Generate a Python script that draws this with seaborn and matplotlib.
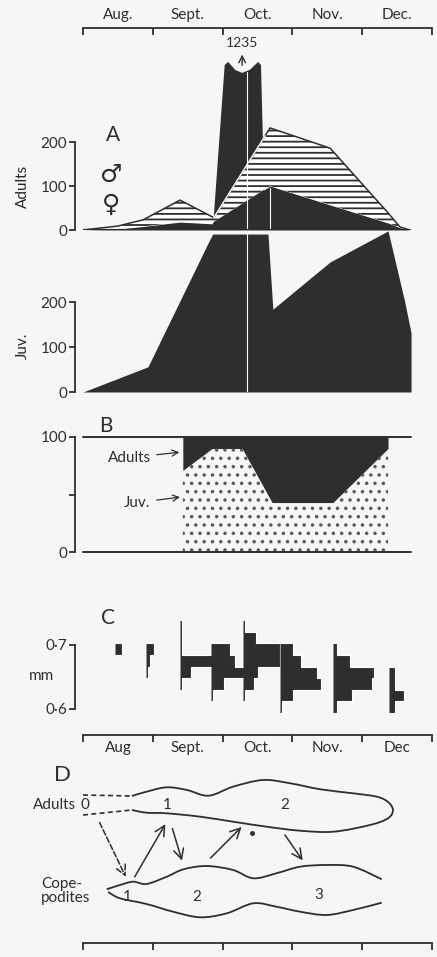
import numpy as np
import matplotlib
matplotlib.use("Agg")
import matplotlib.pyplot as plt
from matplotlib.path import Path
from matplotlib.patches import PathPatch
import seaborn as sns

# ---------------------------------------------------------------------------
# Data (time axis in months counted from 1 August; 5 = end of December)
# ---------------------------------------------------------------------------
months_top = ["Aug.", "Sept.", "Oct.", "Nov.", "Dec."]
months_mid = ["Aug", "Sept.", "Oct.", "Nov.", "Dec"]

# A: adults per sample, stacked (females below, males hatched above)
adult_t = [0.0, 0.50, 0.86, 1.39, 1.85, 1.87, 2.68, 3.54, 4.37, 4.54, 4.68]
adult_female = [0, 2, 8, 18, 14, 18, 100, 57, 16, 5, 0]
adult_total = [0, 9, 23, 68, 30, 27, 232, 186, 39, 7, 0]

# early-October swarm sample, drawn broken at the top of the scale
spike_value = 1235
spike_t = [1.86, 2.61]
spike_cap = 372
jag_t = [2.03, 2.08, 2.18, 2.28, 2.39, 2.51, 2.55]
jag_off = [3, 10, -8, -15, -8, 10, 3]

# A: juveniles per sample
juv_t = [0.0, 0.93, 1.82, 1.86, 2.65, 2.72, 3.54, 4.37, 4.61, 4.70, 4.70]
juv_n = [0, 56, 340, 351, 351, 184, 289, 358, 200, 131, 0]

# B: percentage of juveniles in the population
pct_t = [1.43, 1.85, 2.28, 2.71, 3.58, 4.37]
pct_juv = [71, 90, 90, 43, 43, 90]

# C: size-frequency of adults (length classes in mm, counts per class)
size_mm = [0.730, 0.712, 0.694, 0.675, 0.657, 0.639, 0.621, 0.603]
size_step = 0.0182
sample_t = [0.46, 0.90, 1.39, 1.83, 2.29, 2.82, 3.58, 4.38]
size_counts = [
    [0, 0, 3, 0, 0, 0, 0, 0],
    [0, 0, 4, 2, 1, 0, 0, 0],
    [1, 1, 1, 17, 5, 1, 0, 0],
    [0, 0, 9, 11, 18, 6, 1, 0],
    [1, 6, 17, 17, 7, 5, 1, 0],
    [0, 0, 6, 10, 17, 19, 6, 1],
    [0, 0, 2, 8, 19, 18, 9, 2],
    [0, 0, 0, 0, 3, 3, 7, 3],
]
months_per_animal = 0.031

# D: scheme of the generations (x in months, y downward)
adult_outline = [(0.70, 36), (0.91, 31.7), (1.20, 27.3), (1.49, 30), (1.80, 35.7),
                 (2.15, 26.7), (2.58, 20), (2.97, 23.3), (3.40, 29.3), (3.87, 33.3),
                 (4.21, 36.7), (4.37, 42), (4.44, 50), (4.37, 58.3), (4.11, 65),
                 (3.59, 71.7), (3.11, 70.7), (2.63, 66.7), (2.15, 61.7), (1.68, 56.7),
                 (1.20, 53.3), (0.91, 52.7), (0.70, 50)]
adult_dashed = [[(0.0, 35), (0.70, 36)], [(0.0, 55), (0.70, 50)]]
cope_upper = [(0.34, 129.3), (0.53, 125), (0.72, 121.7), (0.91, 124), (1.20, 116.7),
              (1.44, 109.3), (1.77, 106), (2.15, 110), (2.44, 118.3), (2.77, 113.3),
              (3.11, 106.7), (3.49, 105), (3.87, 106.7), (4.28, 119.3)]
cope_lower = [(0.36, 132), (0.53, 138.3), (0.91, 144), (1.29, 151.7), (1.68, 157.3),
              (2.06, 153.3), (2.44, 143.3), (2.77, 146.7), (3.11, 151.7), (3.49, 155),
              (3.87, 150), (4.28, 142.7)]
gen_arrows = [((0.22, 60), (0.63, 119.3), "--"),
              ((0.72, 119.3), (1.20, 61.7), "-"),
              ((1.27, 66), (1.43, 103.3), "-"),
              ((1.80, 100), (2.30, 65), "-"),
              ((2.87, 72.7), (3.17, 102.7), "-")]
adult_gen_labels = [(0.03, 45, "0"), (1.21, 45, "1"), (2.89, 45, "2")]
cope_gen_labels = [(0.63, 137, "1"), (1.63, 137, "2"), (3.38, 135, "3")]

# ---------------------------------------------------------------------------
sns.set_theme(style="ticks")
INK = "#2e2e2e"
PAPER = "#f6f6f4"
plt.rcParams["font.family"] = ["Lato", "DejaVu Sans"]
plt.rcParams["hatch.linewidth"] = 1.3
plt.rcParams["axes.edgecolor"] = INK
plt.rcParams["xtick.color"] = INK
plt.rcParams["ytick.color"] = INK
plt.rcParams["text.color"] = INK

W, H = 437, 957
fig = plt.figure(figsize=(W / 100, H / 100), dpi=100, facecolor=PAPER)


def band(top_row, bottom_row):
    return [83 / W, 1 - bottom_row / H, 349 / W, (bottom_row - top_row) / H]


def strip(ax):
    ax.set_facecolor("none")
    ax.set_xlim(0, 5)
    for s in ax.spines.values():
        s.set_visible(False)
        s.set_linewidth(1.3)
    ax.set_xticks([])
    ax.set_yticks([])


def left_axis(ax, ticks, labels, lo, hi):
    ax.spines["left"].set_visible(True)
    ax.spines["left"].set_position(("outward", 5.8))
    ax.spines["left"].set_bounds(lo, hi)
    ax.set_yticks(ticks)
    ax.set_yticklabels(labels)
    ax.tick_params(axis="y", direction="out", length=4, width=1.3,
                   labelsize=11, pad=1.5)


def month_axis(ax, side, labels):
    ax.spines[side].set_visible(True)
    ax.set_xticks(range(6))
    ax.set_xticks(np.arange(0.5, 5, 1), minor=True)
    ax.set_xticklabels([""] * 6)
    ax.set_xticklabels(labels if labels else [""] * 5, minor=True)
    if side == "top":
        ax.xaxis.tick_top()
        ax.tick_params(axis="x", which="major", direction="in", length=5, width=1.3)
    else:
        ax.tick_params(axis="x", which="major", direction="out", length=5, width=1.3)
    ax.tick_params(axis="x", which="minor", length=0, labelsize=11, pad=4)


# ----- A: adults -----------------------------------------------------------
axA = fig.add_axes(band(28, 230))
strip(axA)
axA.set_ylim(0, 202 / 0.44)
left_axis(axA, [0, 100, 200], ["0", "100", "200"], 0, 200)
month_axis(axA, "top", months_top)

shown = min(spike_value, spike_cap)
sx = [spike_t[0]] + jag_t + [spike_t[1]]
sy = [0] + [shown + o for o in jag_off] + [0]
axA.fill(sx, sy, color=INK, lw=0)
axA.fill_between(adult_t, 0, adult_female, color=INK, lw=0)
axA.fill_between(adult_t, adult_female, adult_total, facecolor="white",
                 edgecolor=INK, hatch="---", lw=0)
sns.lineplot(x=adult_t, y=adult_total, ax=axA, color=INK, lw=1.1,
             sort=False, estimator=None)
axA.plot([1.87, 2.61], [27, 27 + (232 - 27) * (2.61 - 1.87) / (2.68 - 1.87)],
         color="white", lw=1.0)
axA.plot([2.35, 2.35], [0, shown - 12], color="white", lw=0.8)
axA.plot([2.68, 2.68], [0, 95], color="white", lw=0.8)
axA.plot([0, 4.68], [0, 0], color=INK, lw=1.6)
axA.annotate("", xy=(2.28, 405), xytext=(2.28, 368),
             arrowprops=dict(arrowstyle="->", color=INK, lw=1.0))
axA.text(2.28, 425, f"{spike_value}", ha="center", va="center", fontsize=10)
axA.text(0.43, 216, "A", ha="center", va="center", fontsize=15)
axA.text(0.40, 125, "\u2642", ha="center", va="center", fontsize=18,
         family=["DejaVu Sans"])
axA.text(0.40, 57, "\u2640", ha="center", va="center", fontsize=18,
         family=["DejaVu Sans"])
axA.set_ylabel("Adults", fontsize=11)
axA.yaxis.set_label_coords(-0.152, 0.218)

# ----- A: juveniles --------------------------------------------------------
axJ = fig.add_axes(band(232, 392))
strip(axJ)
axJ.set_ylim(0, 160 / 0.45)
left_axis(axJ, [0, 100, 200], ["0", "100", "200"], 0, 200)
axJ.fill_between(juv_t, 0, juv_n, color=INK, lw=0, clip_on=False)
axJ.plot([2.35, 2.35], [0, 351], color="white", lw=0.8)
axJ.set_ylabel("Juv.", fontsize=11)
axJ.yaxis.set_label_coords(-0.152, 0.29)

# ----- B: percentages ------------------------------------------------------
axB = fig.add_axes(band(437, 552))
strip(axB)
axB.set_ylim(0, 100)
left_axis(axB, [0, 50, 100], ["0", "", "100"], 0, 100)
axB.fill_between(pct_t, pct_juv, 100, color=INK, lw=0)
axB.fill_between(pct_t, 0, pct_juv, facecolor="none", edgecolor="#5a5a5a",
                 hatch="..", lw=0)
axB.plot([0, 4.7], [100, 100], color=INK, lw=1.4, clip_on=False)
axB.plot([0, 4.7], [0, 0], color=INK, lw=1.4, clip_on=False)
axB.text(0.32, 110, "B", ha="center", va="center", fontsize=15)
axB.annotate("Adults", xy=(1.42, 87), xytext=(0.97, 82), ha="right", va="center",
             fontsize=11, arrowprops=dict(arrowstyle="->", color=INK, lw=0.9))
axB.annotate("Juv.", xy=(1.43, 48), xytext=(0.97, 43), ha="right", va="center",
             fontsize=11, arrowprops=dict(arrowstyle="->", color=INK, lw=0.9))

# ----- C: size distributions ----------------------------------------------
axC = fig.add_axes(band(600, 735))
strip(axC)
axC.set_ylim(0.6 - 26 / 640, 0.7 + 45 / 640)
left_axis(axC, [0.6, 0.7], ["0\u00b76", "0\u00b77"], 0.6, 0.7)
month_axis(axC, "bottom", months_mid)
centres = np.array(size_mm)[::-1]
edges = np.concatenate([centres - size_step / 2, [centres[-1] + size_step / 2]])
for base, counts in zip(sample_t, size_counts):
    c = np.array(counts, float)[::-1]
    nz = np.nonzero(c)[0]
    lo, hi = nz[0], nz[-1] + 1
    axC.stairs(base + c[lo:hi] * months_per_animal, edges[lo:hi + 1],
               baseline=base, orientation="horizontal", fill=True,
               facecolor=INK, edgecolor="white", lw=0.8)
axC.text(-0.59, 0.6516, "mm", ha="center", va="center", fontsize=11)
axC.text(0.36, 0.742, "C", ha="center", va="center", fontsize=15)

# ----- D: generations scheme ----------------------------------------------
axD = fig.add_axes(band(760, 943))
strip(axD)
axD.set_ylim(183, 0)
month_axis(axD, "bottom", None)


def through(points):
    """Smooth open path passing through the given points."""
    p = np.asarray(points, float)
    ext = np.vstack([p[0], p, p[-1]])
    verts, codes = [tuple(p[0])], [Path.MOVETO]
    for i in range(1, len(ext) - 2):
        c1 = ext[i] + (ext[i + 1] - ext[i - 1]) / 6
        c2 = ext[i + 1] - (ext[i + 2] - ext[i]) / 6
        verts += [tuple(c1), tuple(c2), tuple(ext[i + 1])]
        codes += [Path.CURVE4] * 3
    return Path(verts, codes)


for pts in (adult_outline, cope_upper, cope_lower):
    axD.add_patch(PathPatch(through(pts), fill=False, edgecolor=INK, lw=1.3,
                            clip_on=False))
for seg in adult_dashed:
    (x0, y0), (x1, y1) = seg
    axD.plot([x0, x1], [y0, y1], color=INK, lw=1.2, ls=(0, (3, 2)))
for (x0, y0), (x1, y1), ls in gen_arrows:
    axD.annotate("", xy=(x1, y1), xytext=(x0, y0),
                 arrowprops=dict(arrowstyle="->,head_length=0.6,head_width=0.3",
                                 color=INK, lw=1.1, ls=ls))
axD.plot([2.42], [73.3], "o", color=INK, ms=2.5)
for x, y, s in adult_gen_labels + cope_gen_labels:
    axD.text(x, y, s, ha="center", va="center", fontsize=11)
axD.text(-0.10, 45, "Adults", ha="right", va="center", fontsize=11)
axD.text(-0.60, 131, "Cope-\npodites", ha="left", va="center", fontsize=11,
         linespacing=1.05)
axD.text(-0.29, 15, "D", ha="center", va="center", fontsize=16)

fig.savefig("out.png", dpi=100, facecolor=PAPER)
